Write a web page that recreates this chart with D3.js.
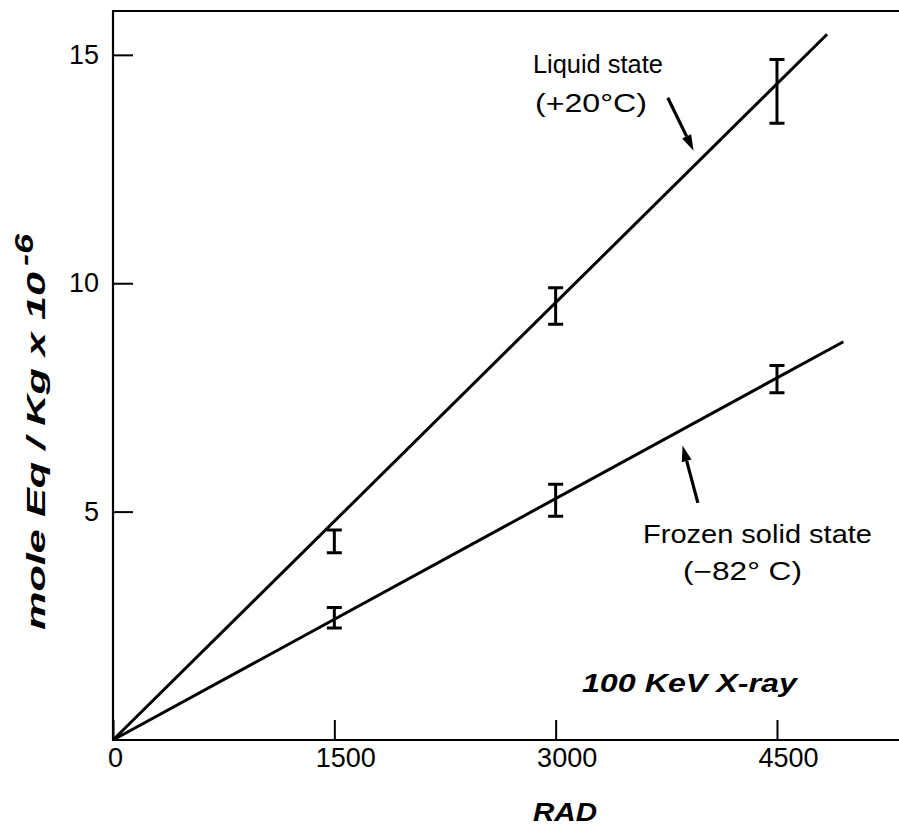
<!DOCTYPE html>
<html>
<head>
<meta charset="utf-8">
<script src="https://cdn.jsdelivr.net/npm/d3@7"></script>
<style>
  body { margin: 0; background: #fff; }
  svg { display: block; }
  .tick text { font-family: "Liberation Sans", Arial, sans-serif; font-size: 27px; fill: #000; }
  .note { font-family: "Liberation Sans", Arial, sans-serif; font-size: 25px; fill: #000; }
  .ital { font-family: "Liberation Sans", Arial, sans-serif; font-size: 25px; font-style: italic; font-weight: bold; fill: #000; }
</style>
</head>
<body>
<svg width="899" height="829"></svg>
<script>
const W = 899, H = 829

// axes
const xTicks = [0, 1500, 3000, 4500]
const yTicks = [5, 10, 15]

// fitted lines through the origin
const liquidLine = [[0, 0], [4840, 15.45]]
const frozenLine = [[0, 0], [4950, 8.72]]

// measured points with error bars
const doses      = [1500, 3000, 4500]
const liquidLow  = [4.1, 9.1, 13.5]
const liquidHigh = [4.6, 9.9, 14.9]
const frozenLow  = [2.45, 4.9, 7.6]
const frozenHigh = [2.9, 5.6, 8.2]

// annotation arrows, [from, to] in data units
const liquidArrow = [[3760, 14.06], [3935, 12.9]]
const frozenArrow = [[3964, 5.19], [3860, 6.45]]

const svg = d3.select("svg")

const x = d3.scaleLinear().domain([0, 5327]).range([113, 899])
const y = d3.scaleLinear().domain([0, 15.96]).range([740, 11])

// frame: left axis, bottom axis, top line
svg.append("g")
	.attr("transform", `translate(0,${y(0)})`)
	.call(d3.axisBottom(x).tickValues(xTicks).tickSize(-20).tickPadding(8).tickFormat(d3.format("d")))
	.call(g => g.select(".domain").remove())
	.call(g => g.selectAll(".tick line").attr("stroke", "#000").attr("stroke-width", 2))
	.call(g => g.selectAll(".tick text").attr("dx", d => d ? 11 : 2))

svg.append("g")
	.attr("transform", `translate(${x(0)},0)`)
	.call(d3.axisLeft(y).tickValues(yTicks).tickSize(-20).tickPadding(14))
	.call(g => g.select(".domain").remove())
	.call(g => g.selectAll(".tick line").attr("stroke", "#000").attr("stroke-width", 2))

svg.append("path")
	.attr("d", `M${x(0) - 1},${y(15.96)} H${W} M${x(0)},${y(15.96)} V${y(0)} M${x(0) - 1},${y(0)} H${W}`)
	.attr("fill", "none")
	.attr("stroke", "#000")
	.attr("stroke-width", 2.2)

// fitted lines
const line = d3.line().x(d => x(d[0])).y(d => y(d[1]))
svg.selectAll("path.fit")
	.data([liquidLine, frozenLine])
	.join("path")
	.attr("class", "fit")
	.attr("d", line)
	.attr("fill", "none")
	.attr("stroke", "#000")
	.attr("stroke-width", 3)

// error bars
function errorBars(lows, highs) {
	const g = svg.append("g").attr("stroke", "#000").attr("fill", "none")
	doses.forEach((d, i) => {
		const cx = x(d)
		g.append("path")
			.attr("d", `M${cx},${y(lows[i])} V${y(highs[i])}`)
			.attr("stroke-width", 3)
		g.append("path")
			.attr("d", `M${cx - 7.5},${y(lows[i])} H${cx + 7.5} M${cx - 7.5},${y(highs[i])} H${cx + 7.5}`)
			.attr("stroke-width", 3)
	})
}
errorBars(liquidLow, liquidHigh)
errorBars(frozenLow, frozenHigh)

// arrows
function arrow(a) {
	const [x0, y0] = [x(a[0][0]), y(a[0][1])]
	const [x1, y1] = [x(a[1][0]), y(a[1][1])]
	const ang = Math.atan2(y1 - y0, x1 - x0)
	const len = 16, half = 5
	const bx = x1 - len * Math.cos(ang), by = y1 - len * Math.sin(ang)
	const px = -Math.sin(ang) * half, py = Math.cos(ang) * half
	svg.append("path")
		.attr("d", `M${x0},${y0} L${bx},${by}`)
		.attr("stroke", "#000").attr("stroke-width", 3.2)
	svg.append("path")
		.attr("d", `M${x1},${y1} L${bx + px},${by + py} L${bx - px},${by - py} Z`)
		.attr("fill", "#000")
}
arrow(liquidArrow)
arrow(frozenArrow)

// labels
svg.append("text").attr("class", "note")
	.attr("x", x(3727)).attr("y", y(14.6)).attr("text-anchor", "end")
	.attr("textLength", 130).attr("lengthAdjust", "spacingAndGlyphs")
	.text("Liquid state")
svg.append("text").attr("class", "note")
	.attr("x", x(3619)).attr("y", y(13.75)).attr("text-anchor", "end")
	.attr("textLength", 112).attr("lengthAdjust", "spacingAndGlyphs")
	.text("(+20°C)")
svg.append("text").attr("class", "note")
	.attr("x", x(3592)).attr("y", y(4.31))
	.attr("textLength", 229).attr("lengthAdjust", "spacingAndGlyphs")
	.text("Frozen solid state")
svg.append("text").attr("class", "note")
	.attr("x", x(3863)).attr("y", y(3.5))
	.attr("textLength", 119).attr("lengthAdjust", "spacingAndGlyphs")
	.text("(−82° C)")
svg.append("text").attr("class", "ital")
	.attr("x", x(3178)).attr("y", y(1.05))
	.attr("textLength", 215).attr("lengthAdjust", "spacingAndGlyphs")
	.text("100 KeV X-ray")

// axis titles
svg.append("text").attr("class", "ital")
	.attr("x", 565).attr("y", 821).attr("text-anchor", "middle")
	.attr("textLength", 64).attr("lengthAdjust", "spacingAndGlyphs")
	.text("RAD")

svg.append("text").attr("class", "ital")
	.attr("transform", "translate(45,630) rotate(-90)")
	.attr("font-size", 27)
	.attr("textLength", 358).attr("lengthAdjust", "spacingAndGlyphs")
	.text("mole Eq / Kg x 10")
svg.append("text").attr("class", "ital")
	.attr("transform", "translate(33,266) rotate(-90)")
	.attr("font-size", 24)
	.attr("textLength", 32).attr("lengthAdjust", "spacingAndGlyphs")
	.text("-6")
</script>
</body>
</html>
